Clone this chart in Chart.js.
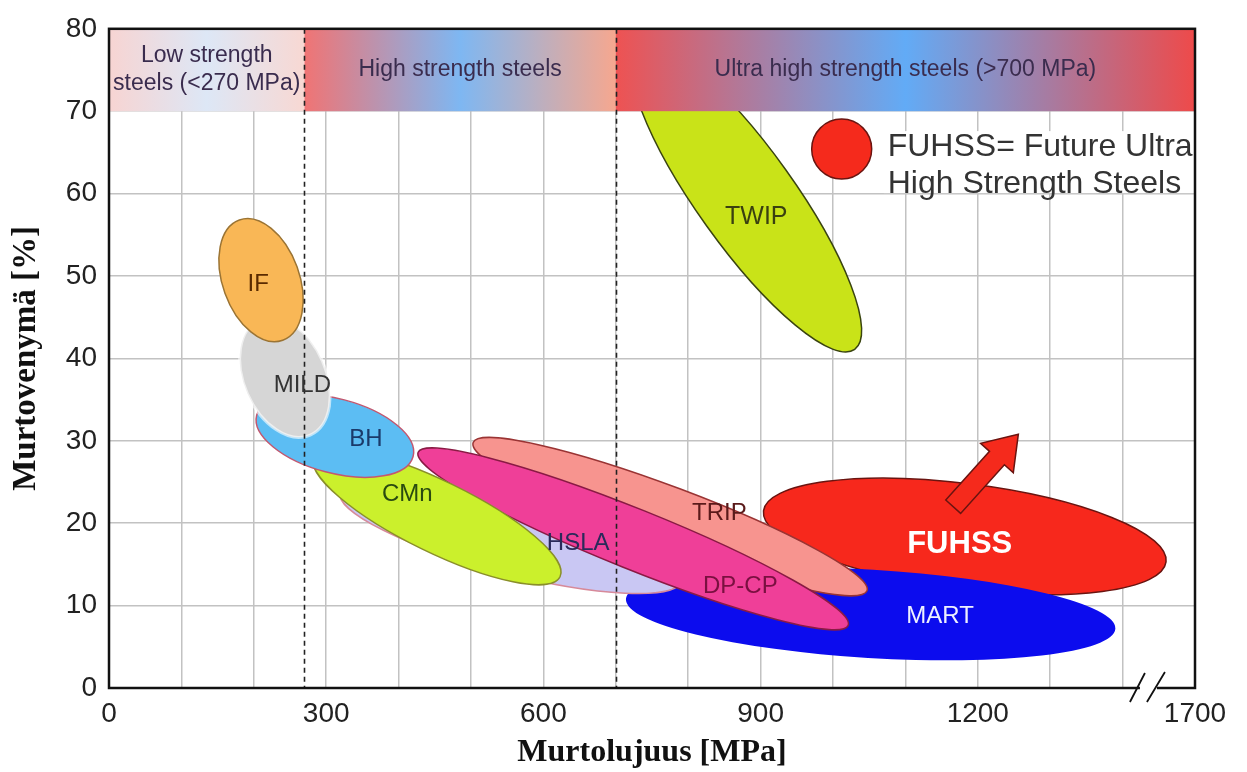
<!DOCTYPE html>
<html>
<head>
<meta charset="utf-8">
<script src="https://cdn.jsdelivr.net/npm/chart.js@4.4.0/dist/chart.umd.min.js"></script>
<style>
  html, body { margin: 0; padding: 0; background: #fff; }
</style>
</head>
<body>
<canvas id="myChart" width="1247" height="772"></canvas>
<script>
/************************/
/*   Steel banana chart */
/************************/

// steel families, listed back to front
var steelNames  = ["FUHSS", "MART", "TRIP", "HSLA", "DP-CP", "CMn", "BH", "MILD", "IF", "TWIP"];
// centre of each ellipse (tensile strength MPa, elongation %)
var centreMPa   = [1182, 1052, 775, 555, 724, 453, 312, 243, 210, 880];
var centreElong = [18.4, 9.0, 20.8, 18.4, 18.1, 20.8, 30.6, 37.7, 49.5, 59.5];
// one end of the long axis
var tipMPa      = [1460, 1390, 1047, 791, 1021, 623, 420, 278, 240, 1030];
var tipElong    = [15.3, 7.2, 11.8, 13.0, 7.6, 13.5, 28.1, 30.7, 42.2, 41.1];
// short axis / long axis
var spread      = [0.26, 0.18, 0.14, 0.21, 0.13, 0.26, 0.46, 0.65, 0.6, 0.26];
// where the name is written
var labelMPa    = [1175, 1148, 843, 648, 872, 412, 355, 267, 206, 894];
var labelElong  = [17.4, 8.7, 21.2, 17.5, 12.3, 23.5, 30.2, 36.7, 49.0, 57.2];

// strength classes on top of the plot
var classNames  = [["Low strength", "steels (<270 MPa)"], ["High strength steels"], ["Ultra high strength steels (>700 MPa)"]];
var classLimits = [0, 270, 700, 1500];
var bandFrom = 70;
var bandTo = 80;

// x axis is broken, last tick is really 1700
var xTickValues = [0, 300, 600, 900, 1200, 1500];
var xTickLabels = ["0", "300", "600", "900", "1200", "1700"];
var axisBreakAt = 1435;

// FUHSS arrow and legend marker
var arrowFrom = [1166, 22.0];
var arrowTo   = [1256, 30.8];
var legendAt  = [1012, 65.4];
var legendText = ["FUHSS= Future Ultra", "High Strength Steels"];

// styles
var fills   = ["#f7281c", "#0c0cee", "#f7948f", "#c9c7f3", "#ef3f98", "#cbf02c", "#5cbdf3", "#d6d6d6", "#f9b756", "#c9e318"];
var strokes = ["#6a1410", null, "#9a3434", "#d78a9a", "#8a1a44", "#8a8f2a", "#c25870", null, "#9b7434", "#3a4410"];
var textColors = ["#ffffff", "#eef0ff", "#5a1a1a", "#2a2a5a", "#7a1040", "#2a4a10", "#1a3a6a", "#333333", "#5a2a00", "#3a4010"];
var bandStops = [
    ["#f7d4d2", "#dde7f6", "#f8d8d3"],
    ["#f07474", "#7eb7f2", "#f6a78f"],
    ["#ee5252", "#62abf6", "#ee4a4a"]
];

var sans = "'Liberation Sans', Arial, sans-serif";
var serif = "'Liberation Serif', 'Times New Roman', serif";

var steelPlugin = {
    id: "steels",
    afterDraw: function(chart) {
        var ctx = chart.ctx;
        var xs = chart.scales.x;
        var ys = chart.scales.y;
        var area = chart.chartArea;
        var i;

        ctx.save();
        ctx.beginPath();
        ctx.rect(area.left, area.top, area.right - area.left, area.bottom - area.top);
        ctx.clip();

        //ellipses
        for (i = 0; i < steelNames.length; i++) {
            var cx = xs.getPixelForValue(centreMPa[i]);
            var cy = ys.getPixelForValue(centreElong[i]);
            var tx = xs.getPixelForValue(tipMPa[i]);
            var ty = ys.getPixelForValue(tipElong[i]);
            var a = Math.hypot(tx - cx, ty - cy);
            var rot = Math.atan2(ty - cy, tx - cx);
            ctx.beginPath();
            ctx.ellipse(cx, cy, a, a * spread[i], rot, 0, 2 * Math.PI);
            ctx.fillStyle = fills[i];
            ctx.fill();
            if (strokes[i]) {
                ctx.lineWidth = 1.5;
                ctx.strokeStyle = strokes[i];
                ctx.stroke();
            } else if (steelNames[i] == "MILD") {
                ctx.lineWidth = 3;
                ctx.strokeStyle = "rgba(255,255,255,0.6)";
                ctx.stroke();
            }
        }

        //class band
        var bTop = ys.getPixelForValue(bandTo);
        var bBot = ys.getPixelForValue(bandFrom);
        for (i = 0; i < classNames.length; i++) {
            var x0 = xs.getPixelForValue(classLimits[i]);
            var x1 = xs.getPixelForValue(classLimits[i + 1]);
            var g = ctx.createLinearGradient(x0, 0, x1, 0);
            g.addColorStop(0, bandStops[i][0]);
            g.addColorStop(0.5, bandStops[i][1]);
            g.addColorStop(1, bandStops[i][2]);
            ctx.fillStyle = g;
            ctx.fillRect(x0, bTop, x1 - x0, bBot - bTop);
        }
        ctx.fillStyle = "#3a2c4e";
        ctx.font = "23px " + sans;
        ctx.textAlign = "center";
        ctx.textBaseline = "middle";
        for (i = 0; i < classNames.length; i++) {
            var mx = (xs.getPixelForValue(classLimits[i]) + xs.getPixelForValue(classLimits[i + 1])) / 2;
            var my = (bTop + bBot) / 2;
            var lines = classNames[i];
            for (var k = 0; k < lines.length; k++) {
                ctx.fillText(lines[k], mx, my + (k - (lines.length - 1) / 2) * 28);
            }
        }

        //dashed class limits
        ctx.setLineDash([5, 4]);
        ctx.lineWidth = 1.6;
        ctx.strokeStyle = "#222";
        for (i = 1; i < classLimits.length - 1; i++) {
            var lx = Math.round(xs.getPixelForValue(classLimits[i])) + 0.5;
            ctx.beginPath();
            ctx.moveTo(lx, area.top);
            ctx.lineTo(lx, area.bottom);
            ctx.stroke();
        }
        ctx.setLineDash([]);

        //names
        for (i = 0; i < steelNames.length; i++) {
            var bold = steelNames[i] == "FUHSS";
            var size = bold ? 31 : (steelNames[i] == "TWIP" ? 25 : 24);
            ctx.font = (bold ? "bold " : "") + size + "px " + sans;
            ctx.fillStyle = textColors[i];
            ctx.fillText(steelNames[i], xs.getPixelForValue(labelMPa[i]), ys.getPixelForValue(labelElong[i]));
        }

        //legend marker
        var gx = xs.getPixelForValue(legendAt[0]);
        var gy = ys.getPixelForValue(legendAt[1]);
        ctx.fillStyle = "#ffffff";
        ctx.fillRect(gx + 42, gy - 18, area.right - gx - 42, 62);
        ctx.beginPath();
        ctx.arc(gx, gy, 30, 0, 2 * Math.PI);
        ctx.fillStyle = "#f52a1c";
        ctx.fill();
        ctx.lineWidth = 1.5;
        ctx.strokeStyle = "#6a1410";
        ctx.stroke();
        ctx.fillStyle = "#333";
        ctx.font = "32px " + sans;
        ctx.textAlign = "left";
        ctx.fillText(legendText[0], gx + 46, gy - 2);
        ctx.fillText(legendText[1], gx + 46, gy + 35);

        //arrow
        var ax = xs.getPixelForValue(arrowFrom[0]);
        var ay = ys.getPixelForValue(arrowFrom[1]);
        var bx = xs.getPixelForValue(arrowTo[0]);
        var by = ys.getPixelForValue(arrowTo[1]);
        var len = Math.hypot(bx - ax, by - ay);
        ctx.translate(ax, ay);
        ctx.rotate(Math.atan2(by - ay, bx - ax));
        ctx.beginPath();
        ctx.moveTo(0, -10);
        ctx.lineTo(len - 32, -10);
        ctx.lineTo(len - 32, -22);
        ctx.lineTo(len, 0);
        ctx.lineTo(len - 32, 22);
        ctx.lineTo(len - 32, 10);
        ctx.lineTo(0, 10);
        ctx.closePath();
        ctx.fillStyle = "#f52a1c";
        ctx.fill();
        ctx.strokeStyle = "#6a1410";
        ctx.lineWidth = 1.5;
        ctx.stroke();
        ctx.restore();

        //frame
        ctx.save();
        ctx.strokeStyle = "#111";
        ctx.lineWidth = 2.5;
        ctx.strokeRect(area.left, area.top, area.right - area.left, area.bottom - area.top);

        //axis break
        var kx = xs.getPixelForValue(axisBreakAt);
        ctx.fillStyle = "#fff";
        ctx.fillRect(kx - 8, area.bottom - 3, 17, 6);
        ctx.lineWidth = 1.8;
        ctx.beginPath();
        ctx.moveTo(kx - 18, area.bottom + 14);
        ctx.lineTo(kx - 3, area.bottom - 15);
        ctx.moveTo(kx - 1, area.bottom + 14);
        ctx.lineTo(kx + 17, area.bottom - 16);
        ctx.stroke();
        ctx.restore();
    }
};

var ctx = document.getElementById("myChart");
var myChart = new Chart(ctx, {
    type: "scatter",
    data: { datasets: [] },
    plugins: [steelPlugin],
    options: {
        responsive: false,
        animation: false,
        devicePixelRatio: 1,
        layout: { padding: { top: 24, right: 52, left: 0, bottom: 0 } },
        plugins: { legend: { display: false }, tooltip: { enabled: false } },
        scales: {
            x: {
                type: "linear",
                min: 0,
                max: 1500,
                grid: { color: "#c2c2c2", lineWidth: 1.5, drawTicks: false },
                border: { display: false },
                ticks: {
                    stepSize: 100,
                    autoSkip: false,
                    maxRotation: 0,
                    padding: 9,
                    color: "#222",
                    font: { family: sans, size: 28 },
                    callback: function(v) {
                        var k = xTickValues.indexOf(v);
                        return k < 0 ? "" : xTickLabels[k];
                    }
                },
                title: {
                    display: true,
                    text: "Murtolujuus [MPa]",
                    color: "#111",
                    font: { family: serif, size: 32, weight: "bold" },
                    padding: { top: 3, bottom: 0 }
                },
                afterFit: function(s) { s.height = 84; }
            },
            y: {
                type: "linear",
                min: 0,
                max: 80,
                grid: { color: "#c2c2c2", lineWidth: 1.5, drawTicks: false },
                border: { display: false },
                ticks: {
                    stepSize: 10,
                    padding: 12,
                    color: "#222",
                    font: { family: sans, size: 28 }
                },
                title: {
                    display: true,
                    text: "Murtovenymä [%]",
                    color: "#111",
                    font: { family: serif, size: 33, weight: "bold" },
                    padding: { top: 7, bottom: 0 }
                },
                afterFit: function(s) { s.width = 109; }
            }
        }
    }
});
</script>
</body>
</html>
